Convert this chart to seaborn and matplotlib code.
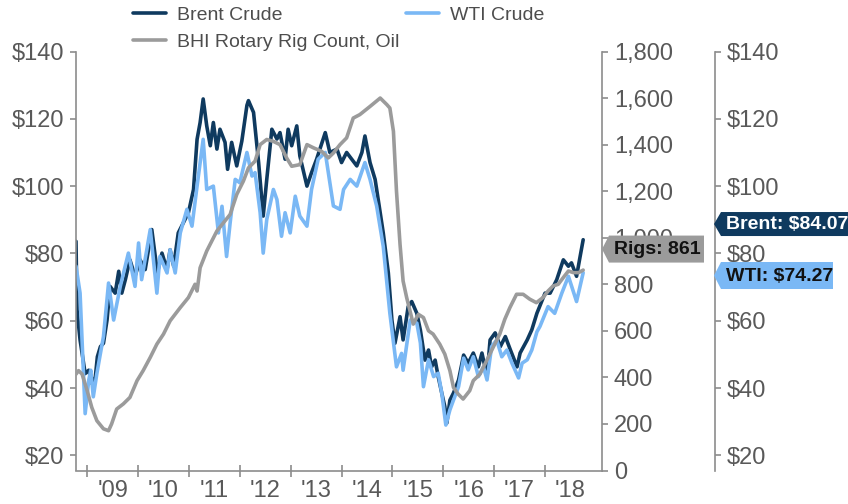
import matplotlib
matplotlib.use("Agg")
import matplotlib.pyplot as plt
from matplotlib.patches import Polygon
from matplotlib.transforms import IdentityTransform
from matplotlib.ticker import FixedLocator, FuncFormatter, NullFormatter
import seaborn as sns

# ---- data (decimal years) ----
brent_t = [2008.78, 2008.80, 2008.86, 2008.96, 2009.03, 2009.09, 2009.16, 2009.20, 2009.26, 2009.32,
           2009.39, 2009.45, 2009.55, 2009.62, 2009.68, 2009.75, 2009.84, 2009.94, 2010.04, 2010.14,
           2010.27, 2010.38, 2010.47, 2010.57, 2010.63, 2010.70, 2010.79, 2010.89, 2010.99, 2011.09,
           2011.16, 2011.22, 2011.28, 2011.35, 2011.42, 2011.48, 2011.55, 2011.61, 2011.71, 2011.76,
           2011.84, 2011.94, 2012.04, 2012.14, 2012.17, 2012.27, 2012.37, 2012.46, 2012.53, 2012.63,
           2012.73, 2012.79, 2012.89, 2012.95, 2013.02, 2013.12, 2013.18, 2013.32, 2013.41, 2013.51,
           2013.68, 2013.77, 2013.91, 2014.00, 2014.10, 2014.20, 2014.30, 2014.40, 2014.46, 2014.56,
           2014.66, 2014.74, 2014.82, 2014.92, 2014.99, 2015.05, 2015.15, 2015.21, 2015.31, 2015.38,
           2015.48, 2015.55, 2015.64, 2015.71, 2015.77, 2015.84, 2015.90, 2015.97, 2016.03, 2016.07,
           2016.13, 2016.20, 2016.30, 2016.40, 2016.49, 2016.59, 2016.69, 2016.76, 2016.86, 2016.92,
           2017.02, 2017.12, 2017.22, 2017.32, 2017.45, 2017.51, 2017.65, 2017.74, 2017.84, 2018.00,
           2018.10, 2018.23, 2018.36, 2018.46, 2018.52, 2018.62, 2018.69, 2018.75]
brent_usd = [83.6, 63.2, 54.3, 44.3, 45.3, 41.4, 43.3, 49.3, 52.3, 53.3,
             60.2, 70.2, 68.2, 74.7, 68.2, 72.2, 78.1, 73.2, 78.1, 75.2,
             87.1, 74.2, 80.1, 75.2, 81.1, 76.2, 86.1, 89.1, 92.1, 99.0,
             113.9, 118.9, 125.9, 117.9, 112.0, 118.9, 111.0, 116.9, 113.0, 105.0,
             113.0, 106.0, 113.4, 124.0, 125.4, 121.9, 107.0, 91.1, 102.0, 116.9,
             114.0, 115.9, 108.0, 116.9, 112.0, 117.9, 109.0, 100.0, 104.0, 108.0,
             115.9, 110.0, 111.0, 107.0, 110.0, 108.0, 106.0, 110.0, 114.9, 107.0,
             102.0, 94.1, 86.1, 74.2, 60.2, 53.3, 61.2, 54.3, 64.2, 65.7,
             62.2, 57.2, 48.3, 51.3, 46.3, 48.3, 43.4, 38.5, 34.5, 29.6,
             36.4, 38.5, 42.4, 49.8, 47.4, 50.4, 46.3, 50.4, 43.4, 54.3,
             56.4, 52.3, 55.3, 51.3, 46.3, 50.4, 54.3, 57.3, 62.2, 68.2,
             68.2, 72.2, 78.1, 76.2, 77.2, 73.2, 79.1, 84.07]

wti_t = [2008.78, 2008.86, 2008.96, 2009.03, 2009.07, 2009.12, 2009.19, 2009.26, 2009.32, 2009.42,
         2009.52, 2009.65, 2009.81, 2009.94, 2010.01, 2010.07, 2010.24, 2010.37, 2010.43, 2010.57,
         2010.63, 2010.73, 2010.83, 2010.96, 2011.06, 2011.16, 2011.28, 2011.35, 2011.48, 2011.58,
         2011.65, 2011.74, 2011.81, 2011.91, 2012.00, 2012.14, 2012.24, 2012.30, 2012.40, 2012.46,
         2012.53, 2012.66, 2012.73, 2012.82, 2012.89, 2012.99, 2013.09, 2013.18, 2013.32, 2013.41,
         2013.54, 2013.68, 2013.84, 2013.97, 2014.04, 2014.17, 2014.30, 2014.46, 2014.56, 2014.69,
         2014.82, 2014.95, 2015.08, 2015.18, 2015.21, 2015.35, 2015.48, 2015.55, 2015.61, 2015.71,
         2015.81, 2015.90, 2015.97, 2016.05, 2016.13, 2016.20, 2016.30, 2016.40, 2016.49, 2016.59,
         2016.69, 2016.79, 2016.86, 2016.95, 2017.05, 2017.15, 2017.25, 2017.35, 2017.48, 2017.55,
         2017.65, 2017.74, 2017.84, 2017.90, 2018.06, 2018.19, 2018.33, 2018.46, 2018.62, 2018.75]
wti_usd = [76.2, 68.2, 32.4, 42.3, 45.3, 37.4, 44.3, 50.3, 55.3, 71.2,
           60.2, 70.2, 80.1, 70.2, 83.1, 72.2, 87.1, 68.2, 79.1, 74.2,
           81.1, 74.2, 86.1, 93.1, 88.1, 100.0, 113.9, 99.0, 100.0, 86.1,
           94.0, 79.1, 89.1, 102.0, 101.0, 110.0, 103.0, 104.0, 92.1, 80.1,
           90.1, 99.0, 96.0, 85.1, 92.1, 86.1, 97.0, 91.1, 88.1, 99.0,
           108.0, 110.0, 94.1, 93.1, 99.0, 102.0, 100.0, 107.0, 102.0, 94.1,
           82.1, 62.2, 46.3, 50.3, 45.3, 60.2, 59.3, 53.4, 40.4, 48.4,
           43.4, 44.4, 38.5, 29.0, 33.5, 36.4, 40.4, 48.9, 45.4, 49.3,
           43.4, 46.3, 42.4, 52.3, 54.3, 49.3, 51.3, 47.4, 43.0, 47.4,
           48.4, 51.3, 56.7, 58.3, 64.2, 62.2, 68.2, 73.2, 65.7, 74.27]

rigs_t = [2008.78, 2008.83, 2008.90, 2009.00, 2009.09, 2009.19, 2009.32, 2009.42, 2009.48, 2009.58,
          2009.71, 2009.84, 2009.98, 2010.10, 2010.24, 2010.37, 2010.50, 2010.63, 2010.83, 2010.99,
          2011.12, 2011.16, 2011.22, 2011.35, 2011.55, 2011.81, 2011.94, 2012.07, 2012.17, 2012.30,
          2012.40, 2012.53, 2012.66, 2012.79, 2012.92, 2013.02, 2013.18, 2013.32, 2013.45, 2013.61,
          2013.74, 2013.84, 2013.97, 2014.10, 2014.23, 2014.36, 2014.56, 2014.76, 2014.89, 2014.95,
          2015.02, 2015.08, 2015.15, 2015.21, 2015.28, 2015.41, 2015.51, 2015.61, 2015.71, 2015.80,
          2015.93, 2016.03, 2016.13, 2016.20, 2016.29, 2016.39, 2016.52, 2016.59, 2016.72, 2016.85,
          2016.98, 2017.11, 2017.21, 2017.31, 2017.44, 2017.57, 2017.70, 2017.83, 2017.96, 2018.06,
          2018.16, 2018.26, 2018.36, 2018.46, 2018.56, 2018.66, 2018.75]
rigs_count = [414, 429, 414, 343, 271, 214, 179, 171, 200, 264,
              286, 314, 386, 429, 486, 543, 586, 643, 700, 743,
              800, 771, 871, 943, 1029, 1100, 1186, 1243, 1300, 1329,
              1400, 1422, 1414, 1400, 1343, 1307, 1314, 1400, 1386, 1371,
              1343, 1364, 1400, 1429, 1514, 1529, 1564, 1600, 1572, 1557,
              1457, 1200, 971, 814, 743, 629, 671, 657, 600, 586,
              543, 500, 429, 357, 329, 307, 343, 386, 414, 471,
              529, 586, 650, 700, 757, 757, 736, 721, 743, 771,
              793, 800, 829, 857, 850, 850, 861]

year_ticks = [2009, 2010, 2011, 2012, 2013, 2014, 2015, 2016, 2017, 2018]
year_labels = ["'09", "'10", "'11", "'12", "'13", "'14", "'15", "'16", "'17", "'18"]
price_ticks = [20, 40, 60, 80, 100, 120, 140]
rig_ticks = [0, 200, 400, 600, 800, 1000, 1200, 1400, 1600, 1800]

# ---- style ----
BRENT = "#0f3a5f"
WTI = "#7ab8f5"
RIGS = "#9b9b9b"
TXT = "#595959"
SPINE = "#8c8c8c"
LW = 2.6

sns.set_theme(style="ticks")
plt.rcParams["font.family"] = ["Liberation Sans", "DejaVu Sans"]

W, H = 848, 504
fig = plt.figure(figsize=(W / 100, H / 100), dpi=100)
ax = fig.add_axes([76 / W, 1 - 470.5 / H, (602 - 76) / W, (470.5 - 51.5) / H])

sns.lineplot(x=brent_t, y=brent_usd, ax=ax, color=BRENT, linewidth=LW, label="Brent Crude", legend=False)
sns.lineplot(x=wti_t, y=wti_usd, ax=ax, color=WTI, linewidth=LW, label="WTI Crude", legend=False)

ax2 = ax.twinx()
sns.lineplot(x=rigs_t, y=rigs_count, ax=ax2, color=RIGS, linewidth=LW,
             label="BHI Rotary Rig Count, Oil", legend=False)

ax3 = ax.twinx()

ax.set_xlim(2008.78, 2019.12)
ax.set_ylim(15.5, 140)
ax2.set_ylim(0, 1800)
ax3.set_ylim(15.5, 140)

for a in (ax, ax2, ax3):
    a.set_xlabel("")
    a.set_ylabel("")
    for s in a.spines.values():
        s.set_visible(False)
        s.set_color(SPINE)
        s.set_linewidth(1.2)

ax.spines["left"].set_visible(True)
ax.spines["bottom"].set_visible(True)
ax2.spines["right"].set_visible(True)
ax3.spines["right"].set_visible(True)
# 113 px further right, expressed in points
ax3.spines["right"].set_position(("outward", 113 * 72 / 100))

money = FuncFormatter(lambda v, p: f"${v:.0f}")
ax.yaxis.set_major_locator(FixedLocator(price_ticks))
ax.yaxis.set_major_formatter(money)
ax3.yaxis.set_major_locator(FixedLocator(price_ticks))
ax3.yaxis.set_major_formatter(money)
ax2.yaxis.set_major_locator(FixedLocator(rig_ticks))
ax2.yaxis.set_major_formatter(FuncFormatter(lambda v, p: f"{v:,.0f}"))

ax.xaxis.set_major_locator(FixedLocator(year_ticks))
ax.xaxis.set_major_formatter(NullFormatter())
ax.xaxis.set_minor_locator(FixedLocator([y + 0.5 for y in year_ticks]))
ax.xaxis.set_minor_formatter(FuncFormatter(lambda v, p: year_labels[int(v) - year_ticks[0]]))

ax.tick_params(axis="x", which="major", direction="inout", length=9, width=1.2, color=SPINE, bottom=True)
ax.tick_params(axis="x", which="minor", length=0, pad=7, labelsize=17, labelcolor=TXT)
ax.tick_params(axis="y", which="major", direction="out", length=4.5, width=1.2, color=SPINE,
               left=True, right=False, pad=4, labelsize=17, labelcolor=TXT)
for a in (ax2, ax3):
    a.tick_params(axis="y", which="major", direction="out", length=4.5, width=1.2, color=SPINE,
                  right=True, left=False, pad=4, labelsize=17, labelcolor=TXT)
ax3.tick_params(axis="x", bottom=False, labelbottom=False)
ax2.tick_params(axis="x", bottom=False, labelbottom=False)

# ---- legend ----
h1, l1 = ax.get_legend_handles_labels()
h2, l2 = ax2.get_legend_handles_labels()
handles = [h1[0], h2[0], h1[1]]
labels = [l1[0], l2[0], l1[1]]
leg = fig.legend(handles, labels, ncol=2, loc="upper left", bbox_to_anchor=(133 / W, 1 - 6 / H),
                 frameon=False, borderpad=0, borderaxespad=0, fontsize=14,
                 handlelength=1.7, handletextpad=0.55, columnspacing=0.35, labelspacing=0.5)
for t in leg.get_texts():
    t.set_color("#4d4d4d")


# ---- value tags on the axes ----
def value_tag(axis, value, x_tip, shift, body_w, body_h, face, text, text_color):
    y = axis.transData.transform((0, value))[1] + shift
    notch = 7
    pts = [(x_tip, y), (x_tip + notch, y + body_h / 2), (x_tip + notch + body_w, y + body_h / 2),
           (x_tip + notch + body_w, y - body_h / 2), (x_tip + notch, y - body_h / 2)]
    fig.add_artist(Polygon(pts, closed=True, facecolor=face, edgecolor="none",
                           transform=IdentityTransform()))
    fig.text(x_tip + notch + 5, y - 0.5, text, transform=IdentityTransform(), ha="left", va="center",
             fontsize=14, fontweight="bold", color=text_color)


value_tag(ax2, rigs_count[-1], 602, 21, 95, 27, RIGS, f"Rigs: {rigs_count[-1]:,.0f}", "#111111")
value_tag(ax3, brent_usd[-1], 714, 15.7, 140, 24, BRENT, f"Brent: ${brent_usd[-1]:.2f}", "white")
value_tag(ax3, wti_usd[-1], 714, -2.8, 112, 27, WTI, f"WTI: ${wti_usd[-1]:.2f}", "#111111")

fig.savefig("out.png", dpi=100)
